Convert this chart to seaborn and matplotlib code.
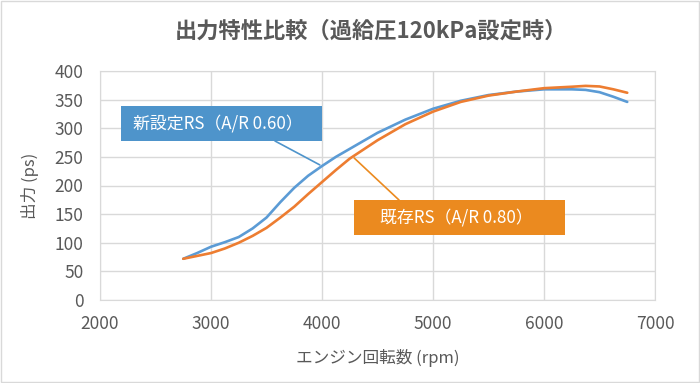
import numpy as np
import pandas as pd
import seaborn as sns
import matplotlib.pyplot as plt
from matplotlib.patches import Rectangle

# data
rpm = [2750, 2875, 3000, 3125, 3250, 3375, 3500, 3625, 3750, 3875, 4000,
       4125, 4250, 4500, 4750, 5000, 5250, 5500, 5750, 6000, 6250,
       6375, 6500, 6625, 6750]
new_rs = [72, 82, 93, 101, 110, 125, 144, 171, 196, 217, 234,
          250, 264, 292, 315, 334, 348, 358, 364, 368, 368,
          367, 363, 355, 346]
old_rs = [72, 77, 82, 90, 100, 112, 126, 144, 163, 185, 206,
          227, 247, 279, 307, 329, 346, 357, 364, 370, 372.5,
          374, 373, 368, 362]
series_names = ["新設定RS（A/R 0.60）", "既存RS（A/R 0.80）"]
title = "出力特性比較（過給圧120kPa設定時）"
x_ticks = [2000, 3000, 4000, 5000, 6000, 7000]
y_ticks = [0, 50, 100, 150, 200, 250, 300, 350, 400]

df = pd.DataFrame({
    "rpm": rpm * 2,
    "ps": new_rs + old_rs,
    "series": [series_names[0]] * len(rpm) + [series_names[1]] * len(rpm),
})

sns.set_style("white")
plt.rcParams['font.family'] = ['Noto Sans CJK JP', 'DejaVu Sans']

text_gray = "#595959"
grid_gray = "#D9D9D9"
line_colors = ["#5B9BD5", "#ED7D31"]
box_colors = ["#4E94CB", "#EB8A1F"]

fig = plt.figure(figsize=(7, 3.83), dpi=100)
ax = fig.add_axes([100 / 700, 1 - 300 / 383, 555 / 700, 229 / 383])

sns.lineplot(data=df, x="rpm", y="ps", hue="series",
             palette=line_colors, linewidth=1.9, legend=False, ax=ax)

ax.set_xlim(2000, 7000)
ax.set_ylim(0, 400)
ax.set_xticks(x_ticks)
ax.set_yticks(y_ticks)
ax.grid(True, color=grid_gray, linewidth=1)
ax.set_axisbelow(True)
for s in ax.spines.values():
    s.set_color(grid_gray)
ax.tick_params(axis="both", length=0, labelsize=12.5, colors=text_gray)
ax.tick_params(axis="x", pad=11)
ax.tick_params(axis="y", pad=12)

ax.set_xlabel("エンジン回転数 (rpm)", fontsize=12, color=text_gray, labelpad=11)
ax.set_ylabel("出力 (ps)", fontsize=12, color=text_gray, labelpad=11)

fig.text(371 / 700, 1 - 31 / 383, title, ha="center", va="center",
         fontsize=16, fontweight="bold", color=text_gray)

# callout boxes (figure pixels)
def callout(x0, y0, x1, y1, label, color, target, start):
    fig.add_artist(Rectangle((x0 / 700, 1 - y1 / 383), (x1 - x0) / 700,
                             (y1 - y0) / 383, transform=fig.transFigure,
                             facecolor=color, edgecolor="none", zorder=5))
    fig.text((x0 + x1) / 2 / 700 - 0.005, 1 - (y0 + y1) / 2 / 383, label,
             ha="center", va="center", fontsize=12.2, color="white", zorder=6)
    ax.annotate("", xy=target, xycoords="data",
                xytext=(start[0], 383 - start[1]), textcoords="figure pixels",
                arrowprops=dict(arrowstyle="-", color=color, lw=1.2,
                                shrinkA=0, shrinkB=0))

callout(121, 106, 322, 141, series_names[0], box_colors[0], (3980, 236), (275, 141))
callout(354, 200, 565, 235, series_names[1], box_colors[1], (4290, 248), (399, 200))

# chart area border
fig.add_artist(Rectangle((0.001, 0.002), 0.997, 0.996, transform=fig.transFigure,
                         facecolor="none", edgecolor=grid_gray, linewidth=1))

fig.savefig("out.png", dpi=100)
